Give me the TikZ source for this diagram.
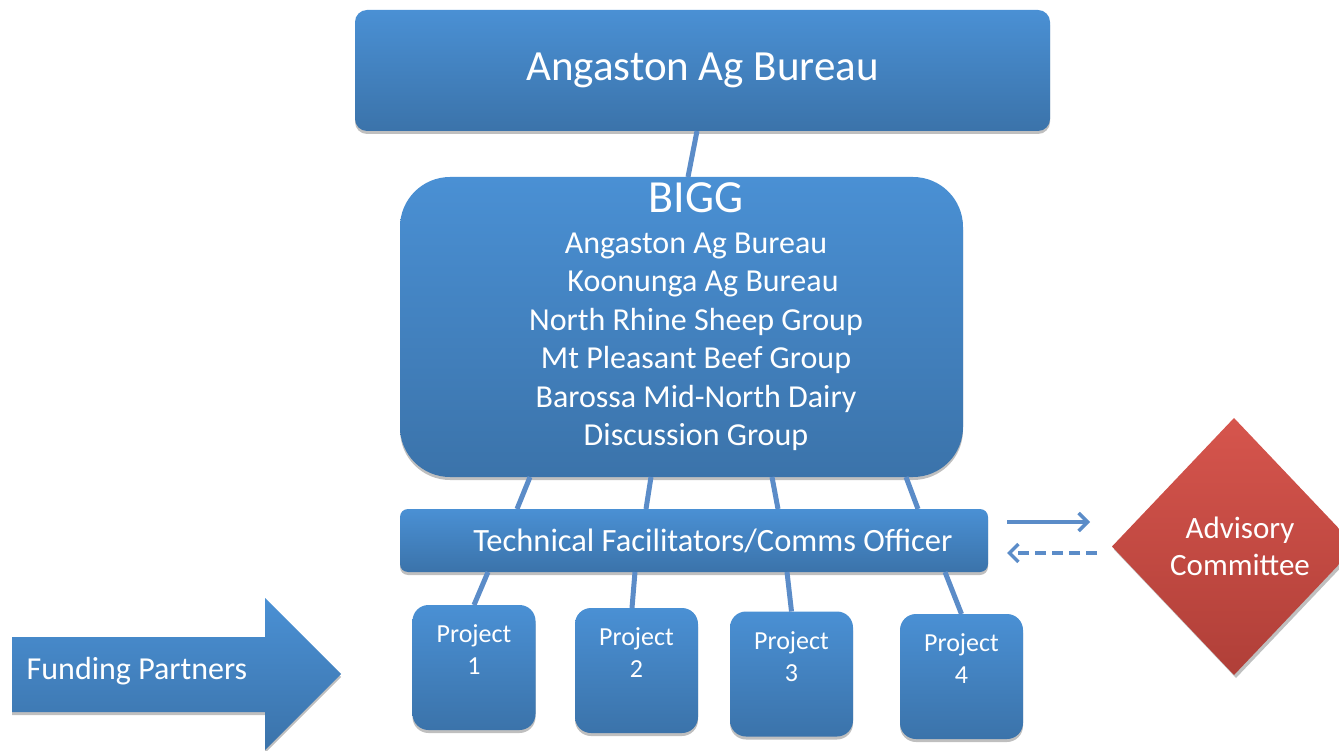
\documentclass[tikz,border=0pt]{standalone}
\usepackage{fontspec}
\setmainfont{Carlito}
\usetikzlibrary{arrows.meta,shapes.geometric,shadows}

\definecolor{boxtop}{HTML}{4A90D4}
\definecolor{boxbot}{HTML}{3B73AA}
\definecolor{redtop}{HTML}{D6554D}
\definecolor{redbot}{HTML}{B03F38}
\definecolor{linkblue}{HTML}{5B8CC8}

\begin{document}
\begin{tikzpicture}[
    x=1pt, y=-1pt,
    every node/.style={align=center, text=white, inner sep=0pt, outer sep=0pt},
    box/.style={rounded corners=12pt, top color=boxtop, bottom color=boxbot,
        drop shadow={shadow xshift=0pt, shadow yshift=-3pt, opacity=0.25, fill=black}},
    head/.style={box, minimum width=695pt, minimum height=121pt},
    group/.style={box, rounded corners=50pt, minimum width=563pt, minimum height=300pt},
    staff/.style={box, rounded corners=8pt, minimum width=588pt, minimum height=63pt},
    project/.style={box, rounded corners=16pt, minimum width=123pt, minimum height=125pt},
    council/.style={diamond, top color=redtop, bottom color=redbot, minimum width=244pt,
        minimum height=257pt, font=\fontsize{31}{37}\selectfont,
        drop shadow={shadow xshift=2pt, shadow yshift=-3pt, opacity=0.25, fill=black}},
    label text/.style={font=\fontsize{26}{32}\selectfont},
    link/.style={linkblue, line width=5pt},
    flow/.style={-{Straight Barb[length=9pt,width=18pt]}, linkblue, line width=3.5pt},
    backflow/.style={flow, dash pattern=on 11pt off 6pt},
]
\useasboundingbox (0,0) rectangle (1339,751);

% --- Bureau & BIGG ---
\node[head]  (bureau) at (702.5,70.5) {\fontsize{43}{50}\selectfont Angaston Ag Bureau};
\node[group] (bigg)   at (681.5,327) {};
\node[font=\fontsize{46}{50}\selectfont] (biggtitle) at (696,198) {BIGG};
\node[font=\fontsize{32}{38.4}\selectfont, anchor=north] (members) at (696,233)
    {Angaston Ag Bureau\\
     \hspace*{14pt}Koonunga Ag Bureau\\
     North Rhine Sheep Group\\
     Mt Pleasant Beef Group\\
     Barossa Mid-North Dairy\\
     Discussion Group};

% --- Facilitators ---
\node[staff] (tech) at (694,540.5) {\hspace*{38pt}\fontsize{32.5}{36}\selectfont Technical Facilitators/Comms Officer};

% --- Projects (text sits high in each box) ---
\node[project] (p1) at (474,667.5)   {};
\node[project] (p2) at (636.5,670.5) {};
\node[project] (p3) at (791.5,674)   {};
\node[project] (p4) at (961.5,676.5) {};
\foreach \p/\n in {p1/1, p2/2, p3/3, p4/4}
    \node[label text, yshift=17.5pt] (\p txt) at (\p) {Project\\\n};

% --- Advisory Committee ---
\node[council] (advisory) at (1234,546.5) {\hspace*{12pt}Advisory\\\hspace*{12pt}Committee};

% --- Funding Partners arrow ---
\shade[top color=boxtop, bottom color=boxbot,
    drop shadow={shadow xshift=0pt, shadow yshift=-3pt, opacity=0.25, fill=black}]
    (12,637) -- (265,637) -- (265,598) -- (341,674) -- (265,750) -- (265,712) -- (12,712) -- cycle;
\node[font=\fontsize{32}{38}\selectfont] (funding) at (137,671) {Funding Partners};

% --- Connectors ---
\draw[link] ([xshift=-5.5pt]bureau.south) -- ([xshift=6.5pt]bigg.north);
\draw[link] ([xshift=-151.5pt]bigg.south) -- ([xshift=-177pt]tech.north);
\draw[link] ([xshift=-30.5pt]bigg.south)  -- ([xshift=-48pt]tech.north);
\draw[link] ([xshift=90.5pt]bigg.south)   -- ([xshift=84pt]tech.north);
\draw[link] ([xshift=224.5pt]bigg.south)  -- ([xshift=224pt]tech.north);
\draw[link] ([xshift=-206pt]tech.south) -- (p1.north);
\draw[link] ([xshift=-59pt]tech.south)  -- ([xshift=-4.5pt]p2.north);
\draw[link] ([xshift=93pt]tech.south)   -- (p3.north);
\draw[link] ([xshift=251pt]tech.south)  -- (p4.north);

% --- Reporting to / from committee ---
\draw[flow]     ([xshift=19pt,yshift=18.5pt]tech.east) -- ([xshift=-22pt,yshift=24.5pt]advisory.west);
\draw[backflow] ([xshift=-15pt,yshift=-6.5pt]advisory.west) -- ([xshift=19pt,yshift=-12.5pt]tech.east);

\end{tikzpicture}
\end{document}
